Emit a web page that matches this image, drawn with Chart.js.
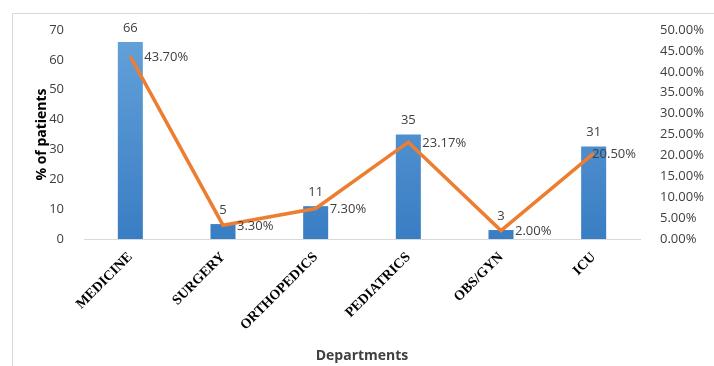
<!DOCTYPE html>
<html>
<head>
<meta charset="utf-8">
<script src="https://cdn.jsdelivr.net/npm/chart.js@4/dist/chart.umd.min.js"></script>
<style>
  html, body { margin: 0; padding: 0; background: #fff; }
  #wrap { width: 714px; height: 366px; position: relative; }
</style>
</head>
<body>
<div id="wrap"><canvas id="deptChart" width="714" height="366"></canvas></div>
<script>
// data
var departments = ['MEDICINE', 'SURGERY', 'ORTHOPEDICS', 'PEDIATRICS', 'OBS/GYN', 'ICU'];
var patientCounts = [66, 5, 11, 35, 3, 31];
var patientShare = [43.70, 3.30, 7.30, 23.17, 2.00, 20.50];
var countTicks = [0, 10, 20, 30, 40, 50, 60, 70];
var shareTicks = [0, 5, 10, 15, 20, 25, 30, 35, 40, 45, 50];

var textColor = '#404040';

// frame + value labels (no datalabels plugin available offline)
var decorations = {
    id: 'decorations',
    beforeDraw: function(chart) {
        var ctx = chart.ctx;
        ctx.save();
        ctx.fillStyle = '#fff';
        ctx.fillRect(0, 0, chart.width, chart.height);
        ctx.strokeStyle = '#d9d9d9';
        ctx.lineWidth = 1;
        ctx.beginPath();
        ctx.moveTo(12.5, chart.height);
        ctx.lineTo(12.5, 13.5);
        ctx.lineTo(chart.width, 13.5);
        ctx.stroke();
        ctx.restore();
    },
    afterDatasetsDraw: function(chart) {
        var ctx = chart.ctx;
        var area = chart.chartArea;
        ctx.save();
        ctx.font = '13px "Open Sans"';
        ctx.fillStyle = textColor;

        var bars = chart.getDatasetMeta(1).data;
        ctx.textAlign = 'center';
        ctx.textBaseline = 'middle';
        bars.forEach(function(bar, i) {
            ctx.fillText(String(patientCounts[i]), bar.x, bar.y - 14);
        });

        var pts = chart.getDatasetMeta(0).data;
        ctx.textAlign = 'left';
        pts.forEach(function(pt, i) {
            var txt = patientShare[i].toFixed(2) + '%';
            var w = ctx.measureText(txt).width;
            var x = Math.min(pt.x + 14, area.right - 4 - w);
            ctx.fillText(txt, x, pt.y + 1);
        });
        ctx.restore();
    }
};

new Chart(document.getElementById('deptChart'), {
    data: {
        labels: departments,
        datasets: [{
            type: 'line',
            label: 'Share',
            data: patientShare,
            yAxisID: 'y1',
            borderColor: '#ed7d31',
            borderWidth: 3.5,
            pointRadius: 0,
            tension: 0,
            order: 0
        }, {
            type: 'bar',
            label: 'Patients',
            data: patientCounts,
            yAxisID: 'y',
            backgroundColor: function(c) {
                var area = c.chart.chartArea;
                if (!area) return '#4a8cd0';
                var g = c.chart.ctx.createLinearGradient(0, area.top, 0, area.bottom);
                g.addColorStop(0, '#64a2da');
                g.addColorStop(1, '#397dc3');
                return g;
            },
            categoryPercentage: 1,
            barPercentage: 0.27,
            order: 1
        }]
    },
    options: {
        responsive: false,
        animation: false,
        layout: { padding: { top: 30, left: 0, right: 0, bottom: 0 } },
        plugins: {
            legend: { display: false },
            tooltip: { enabled: false }
        },
        scales: {
            x: {
                grid: { display: false },
                border: { display: true, color: '#d9d9d9', width: 1 },
                ticks: {
                    color: '#000',
                    font: { family: '"Liberation Serif"', size: 14, weight: 'bold' },
                    maxRotation: 45,
                    minRotation: 45,
                    padding: 2
                },
                title: {
                    display: true,
                    text: 'Departments',
                    color: textColor,
                    font: { family: '"Open Sans"', size: 14, weight: 'bold' },
                    padding: { top: 0, bottom: 2 }
                },
                afterFit: function(s) { s.height = 127; }
            },
            y: {
                position: 'left',
                min: 0,
                max: 70,
                grid: { display: false },
                border: { display: false },
                afterBuildTicks: function(s) {
                    s.ticks = countTicks.map(function(v) { return { value: v }; });
                },
                ticks: {
                    color: textColor,
                    font: { family: '"Open Sans"', size: 13 },
                    padding: 12
                },
                title: {
                    display: true,
                    text: '% of patients',
                    color: '#000',
                    font: { family: '"Open Sans"', size: 14, weight: 'bold' },
                    padding: { top: 34, bottom: 0 }
                },
                afterFit: function(s) { s.width = 84; }
            },
            y1: {
                position: 'right',
                min: 0,
                max: 50,
                grid: { display: false },
                border: { display: false },
                afterBuildTicks: function(s) {
                    s.ticks = shareTicks.map(function(v) { return { value: v }; });
                },
                ticks: {
                    color: textColor,
                    font: { family: '"Open Sans"', size: 13 },
                    padding: 12,
                    callback: function(v) { return v.toFixed(2) + '%'; }
                },
                afterFit: function(s) { s.width = 74; }
            }
        }
    },
    plugins: [decorations]
});
</script>
</body>
</html>
